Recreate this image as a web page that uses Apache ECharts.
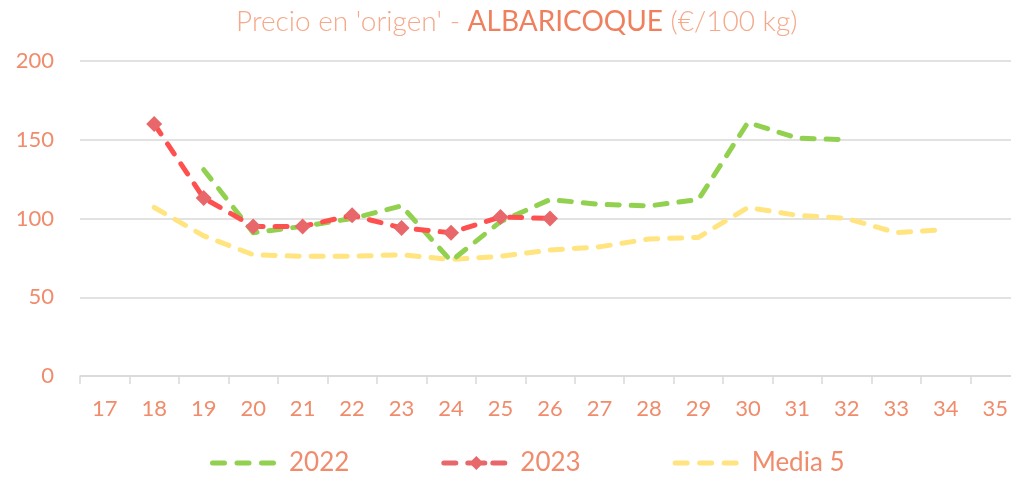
<!DOCTYPE html>
<html>
<head>
<meta charset="utf-8">
<script src="https://cdn.jsdelivr.net/npm/echarts@6/dist/echarts.min.js"></script>
<style>
  html, body { margin: 0; padding: 0; background: #fff; }
  #chart { width: 1011px; height: 480px; }
</style>
</head>
<body>
<div id="chart"></div>
<script>
const weeks = ['17', '18', '19', '20', '21', '22', '23', '24', '25', '26', '27', '28', '29', '30', '31', '32', '33', '34', '35']
const yTicks = [0, 50, 100, 150, 200]
const data2022 = [null, null, 131, 91, 95, 100, 108, 73, 98, 112, 109, 108, 112, 161, 151, 150, null, null, null]
const data2023 = [null, 160, 113, 95, 95, 102, 94, 91, 101, 100, null, null, null, null, null, null, null, null, null]
const media5 = [null, 107, 89, 77, 76, 76, 77, 74, 76, 80, 82, 87, 88, 107, 102, 100, 91, 93, null]

const textColor = '#F08C6C'
const font = 'Lato, "Open Sans", sans-serif'

// legend icons: dashed line (66x14 box), M points keep the full box
function dash(a, b) {
  return 'M' + (a + 2.5) + ',4.5 L' + (b - 2.5) + ',4.5 A2.5,2.5 0 0 1 ' + (b - 2.5) + ',9.5 L' +
    (a + 2.5) + ',9.5 A2.5,2.5 0 0 1 ' + (a + 2.5) + ',4.5 Z '
}
const dashIcon = 'path://M0,0 L0.01,0 Z M66,14 L65.99,14 Z ' + dash(0, 17) + dash(24.5, 41.5) + dash(49, 66)
const diamondIcon = 'path://' + dash(0, 17) + dash(24, 46) + 'M35,0 L42,7 L35,14 L28,7 Z ' + dash(49, 66)

const chart = echarts.init(document.getElementById('chart'))

function dashed(color) {
  return { color: color, width: 5, type: [12, 12], cap: 'round', join: 'round' }
}

chart.setOption({
  backgroundColor: '#fff',
  animation: false,
  title: {
    left: 231,
    top: 3,
    text: "{a|Precio en 'origen' - }{b|ALBARICOQUE}{a| (€/100 kg)}",
    textStyle: {
      rich: {
        a: { fontSize: 28, color: '#F5A88A', fontFamily: font, fontWeight: 300 },
        b: { fontSize: 28, color: '#F07F5E', fontFamily: font, fontWeight: 'normal' }
      }
    }
  },
  legend: {
    bottom: -1,
    left: 205,
    itemWidth: 66,
    itemHeight: 14,
    itemGap: 92,
    textStyle: { color: textColor, fontSize: 26, fontFamily: font, padding: [0, 0, 0, 8] },
    data: [
      { name: '2022', icon: dashIcon },
      { name: '2023', icon: diamondIcon },
      { name: 'Media 5', icon: dashIcon }
    ]
  },
  grid: {
    left: 80,
    width: 940,
    top: 61,
    bottom: 104,
    outerBoundsMode: 'none'
  },
  xAxis: {
    type: 'category',
    data: weeks,
    boundaryGap: true,
    axisLine: { lineStyle: { color: '#D9D9D9', width: 1.5 } },
    axisTick: { show: true, length: 8, lineStyle: { color: '#D9D9D9', width: 1.5 } },
    axisLabel: { color: textColor, fontSize: 22, fontFamily: font, margin: 22 }
  },
  yAxis: {
    type: 'value',
    min: yTicks[0],
    max: yTicks[yTicks.length - 1],
    interval: 50,
    axisLine: { show: false },
    axisTick: { show: false },
    axisLabel: { color: textColor, fontSize: 22, fontFamily: font, margin: 26 },
    splitLine: { lineStyle: { color: '#D9D9D9', width: 1.5 } }
  },
  series: [
    {
      name: '2022',
      type: 'line',
      data: data2022,
      symbol: 'none',
      lineStyle: dashed('#92D050'),
      itemStyle: { color: '#92D050' },
      z: 2
    },
    {
      name: '2023',
      type: 'line',
      data: data2023,
      symbol: 'diamond',
      symbolSize: 16,
      lineStyle: dashed('#FF5050'),
      itemStyle: { color: '#E8676A', borderWidth: 0 },
      z: 3
    },
    {
      name: 'Media 5',
      type: 'line',
      data: media5,
      symbol: 'none',
      lineStyle: dashed('#FFE480'),
      itemStyle: { color: '#FFE480' },
      z: 1
    }
  ]
})
</script>
</body>
</html>
